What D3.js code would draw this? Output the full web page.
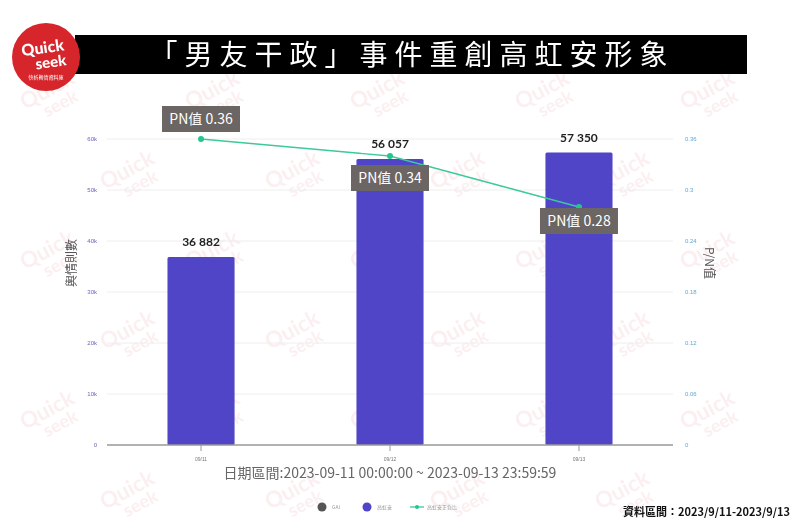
<!DOCTYPE html>
<html>
<head>
<meta charset="utf-8">
<script src="https://cdn.jsdelivr.net/npm/d3@7"></script>
<style>
  body { margin: 0; background: #fff; }
  svg { display: block; font-family: "Noto Sans CJK TC", "Noto Sans", sans-serif; }
</style>
</head>
<body>
<script>
'use strict';

// chart values
const dates = ["09/11", "09/12", "09/13"];
const counts = [36882, 56057, 57350];
const pnValues = [0.36, 0.34, 0.28];
const leftTicks = [0, 10000, 20000, 30000, 40000, 50000, 60000];
const leftTickLabels = ["0", "10k", "20k", "30k", "40k", "50k", "60k"];
const rightTicks = [0, 0.06, 0.12, 0.18, 0.24, 0.3, 0.36];
const legendNames = ["GAI", "高虹安", "高虹安正負比"];

(function () {
  const W = 800, H = 529;
  const svg = d3.select("body").append("svg")
    .attr("width", W)
    .attr("height", H);

  // plot area
  const plot = { left: 107, right: 673, top: 139, bottom: 445 };

  // faint watermarks, kept inside the picture
  const wm = svg.append("g").attr("opacity", 0.45);
  const wmPos = [];
  for (let r = 0; r < 6; r++) {
    for (let c = 0; c < 5; c++) {
      const px = 25 + c * 165 + (r % 2) * 80;
      const py = 110 + r * 80;
      if (px < 730 && py < 520) wmPos.push([px, py]);
    }
  }
  wmPos.forEach((p) => {
    const g = wm.append("g")
      .attr("transform", "translate(" + p[0] + "," + p[1] + ")rotate(-28)");
    g.append("text").attr("x", 0).attr("y", 0)
      .style("font-family", "Lato, sans-serif").style("font-weight", "bold")
      .style("font-size", "22px").attr("fill", "#f6dcdc").text("Quick");
    g.append("text").attr("x", 16).attr("y", 17)
      .style("font-family", "Lato, sans-serif").style("font-weight", "bold")
      .style("font-size", "18px").attr("fill", "#f6dcdc").text("seek");
  });

  // title bar
  svg.append("rect")
    .attr("x", 75).attr("y", 35).attr("width", 672).attr("height", 39)
    .attr("fill", "#000");
  svg.append("text")
    .attr("x", 412).attr("y", 65)
    .attr("text-anchor", "middle")
    .attr("fill", "#fff")
    .style("font-size", "28px")
    .style("letter-spacing", "7px")
    .text("「男友干政」事件重創高虹安形象");

  // logo
  const logo = svg.append("g").attr("transform", "translate(46,57)");
  logo.append("circle").attr("r", 34).attr("fill", "#d7262b");
  logo.append("text").attr("x", -2).attr("y", -4)
    .attr("text-anchor", "middle").attr("fill", "#fff")
    .style("font-family", "Lato, sans-serif").style("font-weight", "900")
    .style("font-size", "16px").attr("transform", "rotate(-8)").text("Quick");
  logo.append("text").attr("x", 4).attr("y", 11)
    .attr("text-anchor", "middle").attr("fill", "#fff")
    .style("font-family", "Lato, sans-serif").style("font-weight", "900")
    .style("font-size", "15px").attr("transform", "rotate(-8)").text("seek");
  logo.append("text").attr("x", 0).attr("y", 22)
    .attr("text-anchor", "middle").attr("fill", "#fff")
    .style("font-size", "5px").text("快析輿情資料庫");

  // scales
  const x = d3.scaleBand()
    .domain(dates)
    .range([plot.left, plot.right])
    .paddingInner(0.645)
    .paddingOuter(0.32);

  const yLeft = d3.scaleLinear()
    .domain([0, 60000])
    .range([plot.bottom, plot.top]);

  const yRight = d3.scaleLinear()
    .domain([0, 0.36])
    .range([plot.bottom, plot.top]);

  // gridlines
  svg.append("g").selectAll("line")
    .data(leftTicks.slice(1))
    .enter().append("line")
    .attr("x1", plot.left).attr("x2", plot.right)
    .attr("y1", (d) => yLeft(d)).attr("y2", (d) => yLeft(d))
    .attr("stroke", "#eeeeee").attr("stroke-width", 1);

  // left axis
  const leftAxis = d3.axisLeft(yLeft)
    .tickValues(leftTicks)
    .tickSize(0)
    .tickPadding(10)
    .tickFormat((d, i) => leftTickLabels[i]);
  const gl = svg.append("g")
    .attr("transform", "translate(" + plot.left + ",0)")
    .call(leftAxis);
  gl.select(".domain").remove();
  gl.selectAll("text").attr("fill", "#6a66b8").style("font-size", "6px");

  // right axis
  const rightAxis = d3.axisRight(yRight)
    .tickValues(rightTicks)
    .tickSize(0)
    .tickPadding(12)
    .tickFormat((d) => d === 0 ? "0" : d3.format(".2~f")(d));
  const gr = svg.append("g")
    .attr("transform", "translate(" + plot.right + ",0)")
    .call(rightAxis);
  gr.select(".domain").remove();
  gr.selectAll("text").attr("fill", "#5aa9d8").style("font-size", "6px");

  // axis titles
  svg.append("text")
    .attr("transform", "translate(76,263)rotate(-90)")
    .attr("text-anchor", "middle")
    .attr("fill", "#555")
    .style("font-size", "12px")
    .text("輿情則數");
  svg.append("text")
    .attr("transform", "translate(705,263)rotate(90)")
    .attr("text-anchor", "middle")
    .attr("fill", "#555")
    .style("font-size", "12px")
    .text("P/N值");

  // bars
  svg.append("g").selectAll("rect")
    .data(counts)
    .enter().append("rect")
    .attr("x", (d, i) => x(dates[i]))
    .attr("y", (d) => yLeft(d))
    .attr("width", x.bandwidth())
    .attr("height", (d) => plot.bottom - yLeft(d))
    .attr("rx", 1.5)
    .attr("fill", "#4f45c6");

  // baseline + x axis
  const bottomAxis = d3.axisBottom(x).tickSize(6).tickPadding(6);
  const gb = svg.append("g")
    .attr("transform", "translate(0," + plot.bottom + ")")
    .call(bottomAxis);
  gb.select(".domain").attr("stroke", "#999").attr("stroke-width", 1.5)
    .attr("d", "M" + plot.left + ",0H" + plot.right);
  gb.selectAll(".tick line").attr("stroke", "#999");
  gb.selectAll("text").attr("fill", "#777").style("font-size", "5px");

  // bar value labels
  svg.append("g").selectAll("text")
    .data(counts)
    .enter().append("text")
    .attr("x", (d, i) => x(dates[i]) + x.bandwidth() / 2)
    .attr("y", (d) => yLeft(d) - 11)
    .attr("text-anchor", "middle")
    .attr("fill", "#222")
    .style("font-family", "Lato, sans-serif")
    .style("font-weight", "bold")
    .style("font-size", "12px")
    .text((d) => d3.format(",")(d).replace(",", " "));

  // PN line
  const line = d3.line()
    .x((d, i) => x(dates[i]) + x.bandwidth() / 2)
    .y((d) => yRight(d));
  svg.append("path")
    .datum(pnValues)
    .attr("fill", "none")
    .attr("stroke", "#3cc99b")
    .attr("stroke-width", 1.3)
    .attr("d", line);
  svg.append("g").selectAll("circle")
    .data(pnValues)
    .enter().append("circle")
    .attr("cx", (d, i) => x(dates[i]) + x.bandwidth() / 2)
    .attr("cy", (d) => yRight(d))
    .attr("r", 3)
    .attr("fill", "#23c78e");

  // PN labels
  const boxOffsets = [-20, 22, 14];
  const boxes = svg.append("g").selectAll("g")
    .data(pnValues)
    .enter().append("g")
    .attr("transform", (d, i) => "translate(" + (x(dates[i]) + x.bandwidth() / 2) + "," +
      (yRight(d) + boxOffsets[i]) + ")");
  boxes.append("rect")
    .attr("x", -39)
    .attr("y", -13)
    .attr("width", 78)
    .attr("height", 26)
    .attr("fill", "#6b6563");
  boxes.append("text")
    .attr("x", 0)
    .attr("y", 5)
    .attr("text-anchor", "middle")
    .attr("fill", "#fff")
    .style("font-size", "14px")
    .text((d) => "PN值 " + d3.format(".2f")(d));

  // date range
  svg.append("text")
    .attr("x", 390).attr("y", 478)
    .attr("text-anchor", "middle")
    .attr("fill", "#666")
    .style("font-size", "14px")
    .text("日期區間:2023-09-11 00:00:00 ~ 2023-09-13 23:59:59");

  // legend
  const legend = svg.append("g").attr("transform", "translate(322,507)");
  const legX = [0, 45, 95];
  legend.append("circle").attr("cx", legX[0]).attr("cy", 0).attr("r", 4.5).attr("fill", "#555");
  legend.append("circle").attr("cx", legX[1]).attr("cy", 0).attr("r", 4.5).attr("fill", "#4f45c6");
  legend.append("line").attr("x1", legX[2] - 7).attr("x2", legX[2] + 7)
    .attr("y1", 0).attr("y2", 0).attr("stroke", "#3cc99b").attr("stroke-width", 1.3);
  legend.append("circle").attr("cx", legX[2]).attr("cy", 0).attr("r", 2).attr("fill", "#23c78e");
  legend.selectAll("text.leg")
    .data(legendNames)
    .enter().append("text")
    .attr("class", "leg")
    .attr("x", (d, i) => legX[i] + 10)
    .attr("y", 2)
    .attr("fill", "#999")
    .style("font-size", "5px")
    .text((d) => d);

  // data period
  svg.append("text")
    .attr("x", 790).attr("y", 516)
    .attr("text-anchor", "end")
    .attr("fill", "#111")
    .style("font-weight", "bold")
    .style("font-size", "11px")
    .text("資料區間：2023/9/11-2023/9/13");
})();
</script>
</body>
</html>
